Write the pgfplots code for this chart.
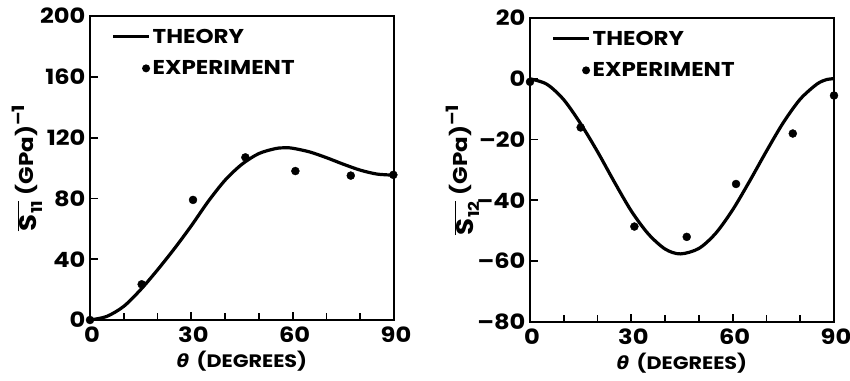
\documentclass[border=0pt]{standalone}
\usepackage{fontspec}
\setmainfont{Poppins}[FakeStretch=1.15]
\newfontfamily\dejavu{DejaVu Sans}
\usepackage{pgfplots}
\pgfplotsset{compat=1.18}

\pgfplotstableread{
x y
0 0
5 2.4
10 9
15 20
20 33
25 47
30 62
35 78
40 92
45 102.5
50 109.5
55 112.8
58 113.3
60 113
65 110.6
70 106.8
75 102.5
80 98.6
85 96
90 95.3
}\theoryA
\pgfplotstableread{
x y
0 0
15.3 23.5
30.5 79
46 107
60.8 98
77.2 95
89.8 95.5
}\expA
\pgfplotstableread{
x y
0 0
5 -1.8
10 -6.9
15 -14.8
20 -24
25 -34
30 -43.5
35 -51
40 -56
44.5 -57.6
50 -55.8
55 -50.8
60 -43.1
65 -33.7
70 -23.8
75 -14.4
80 -6.7
85 -1.7
88 -0.2
90 0
}\theoryB
\pgfplotstableread{
x y
0 -1
15 -16
30.9 -48.6
46.4 -52
61 -34.6
77.8 -18
90 -5.5
}\expB

\pgfplotsset{
  myax/.style={
    scale only axis, width=304pt, height=304pt, anchor=south west,
    xmin=0, xmax=90,
    axis line style={line width=2pt},
    major tick style={line width=1.8pt, black},
    minor tick style={line width=1.8pt, black},
    tick align=inside, tick pos=left,
    major tick length=8pt, minor tick length=7pt,
    xtick={0,30,60,90}, xticklabels={0,30,60,90},
    minor xtick={10,20,40,50,70,80},
    clip=false,
    tick label style={font=\fontsize{21}{23}\selectfont\bfseries},
    xticklabel style={yshift=-3pt, xshift=2pt},
    yticklabel style={xshift=-1pt},
    xlabel={{\dejavu\bfseries\itshape θ}\,\ (DEGREES)},
    xlabel style={font=\fontsize{18}{20}\selectfont\bfseries, at={(axis description cs:0.5,0)}, anchor=center, yshift=-41pt},
    ylabel style={at={(axis description cs:0,0.5)}, anchor=center},
    legend style={draw=none, fill=none, at={(axis description cs:0.07,0.965)}, anchor=north west,
      font=\fontsize{20}{22}\selectfont\bfseries, inner sep=0pt, row sep=12pt,
      /tikz/every even column/.append style={column sep=8pt}},
    legend cell align=left,
  },
  theorystyle/.style={black, line width=3.2pt, smooth, no marks},
  expstyle/.style={only marks, mark=*, mark size=4pt, black},
}

\begin{document}
\begin{tikzpicture}
\useasboundingbox (0pt,0pt) rectangle (850pt,380pt);
\begin{axis}[myax, at={(90pt,60pt)},
  ymin=0, ymax=200, ytick={0,40,80,120,160,200}, yticklabels={0,40,80,120,160,200},
  ylabel={\fontsize{24}{26}\selectfont\bfseries $\overline{\hbox{S\kern0.5pt\raisebox{-6pt}{\fontsize{15}{16}\selectfont 11}}}$\ \raisebox{3pt}{\fontsize{20}{22}\selectfont(GPa)\raisebox{9pt}{\fontsize{17}{18}\selectfont --1}}},
  ylabel style={yshift=63pt},
]
\addlegendimage{legend image code/.code={\draw[black, line width=3.2pt] (0pt,0pt) -- (36pt,0pt);}}
\addlegendentry{THEORY}
\addlegendimage{legend image code/.code={\path[draw=none] (0pt,0pt) -- (36pt,0pt); \fill[black, draw=none] (33pt,0pt) circle (4pt);}}
\addlegendentry{EXPERIMENT}
\addplot[theorystyle] table[x=x,y=y] {\theoryA};
\addplot[expstyle] table[x=x,y=y] {\expA};
\end{axis}
\begin{axis}[myax, at={(530pt,58pt)},
  ymin=-80, ymax=20, ytick={-80,-60,-40,-20,0,20}, yticklabels={--80,--60,--40,--20,0,20},
  ylabel={\fontsize{24}{26}\selectfont\bfseries $\overline{\hbox{S\kern0.5pt\raisebox{-6pt}{\fontsize{15}{16}\selectfont 12}}}$\ \raisebox{6pt}{\fontsize{20}{22}\selectfont(GPa)\raisebox{9pt}{\fontsize{17}{18}\selectfont --1}}},
  ylabel style={yshift=67pt},
]
\addlegendimage{legend image code/.code={\draw[black, line width=3.2pt] (0pt,0pt) -- (36pt,0pt);}}
\addlegendentry{THEORY}
\addlegendimage{legend image code/.code={\path[draw=none] (0pt,0pt) -- (36pt,0pt); \fill[black, draw=none] (33pt,0pt) circle (4pt);}}
\addlegendentry{EXPERIMENT}
\addplot[theorystyle] table[x=x,y=y] {\theoryB};
\addplot[expstyle] table[x=x,y=y] {\expB};
\end{axis}
\end{tikzpicture}
\end{document}
